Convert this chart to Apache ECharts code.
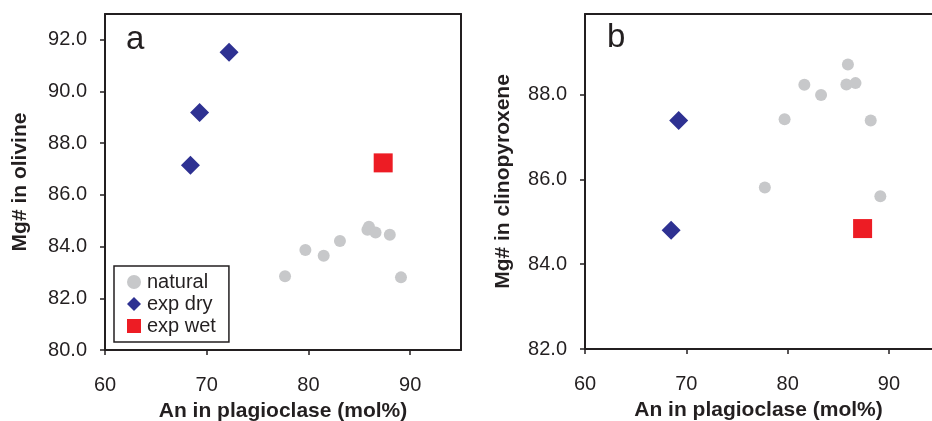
<!DOCTYPE html>
<html>
<head>
<meta charset="utf-8">
<script src="https://cdn.jsdelivr.net/npm/echarts@6/dist/echarts.min.js"></script>
<style>
html,body{margin:0;padding:0;background:#fff;overflow:hidden;}
#c{width:932px;height:421px;}
</style>
</head>
<body>
<div id="c"></div>
<script>
// Panel a: An in plagioclase vs Mg# in olivine
const naturalA = [[77.7,82.85],[79.7,83.87],[81.5,83.65],[83.1,84.22],[85.8,84.65],[85.95,84.77],[86.6,84.55],[88.0,84.46],[89.1,82.81]];
const expDryA = [[72.2,91.52],[69.3,89.19],[68.4,87.15]];
const expWetA = [[87.35,87.24]];
// Panel b: An in plagioclase vs Mg# in clinopyroxene
const naturalB = [[77.75,85.81],[79.7,87.42],[81.65,88.23],[83.3,87.99],[85.8,88.24],[85.95,88.71],[86.7,88.27],[88.2,87.39],[89.15,85.6]];
const expDryB = [[69.25,87.39],[68.5,84.8]];
const expWetB = [[87.4,84.84]];
const xTicks = [60,70,80,90];
const yTicksA = [80,82,84,86,88,90,92];
const yTicksB = [82,84,86,88];

const FONT = 'Liberation Sans, Arial, sans-serif';
const DARK = '#231f20';
const GRAY = '#c7c8ca', NAVY = '#2e3192', RED = '#ed1c24';

function xAxis(gi,max){
  return {
    type:'value', gridIndex:gi, min:60, max:max, interval:10,
    name:'An in plagioclase (mol%)', nameLocation:'middle', nameGap:51,
    nameTextStyle:{fontFamily:FONT,fontSize:21,fontWeight:'bold',color:DARK},
    axisLine:{show:true,onZero:false,lineStyle:{color:DARK,width:2}},
    axisTick:{show:true,length:5,lineStyle:{color:DARK,width:1.5},customValues:xTicks},
    axisLabel:{fontFamily:FONT,fontSize:20,color:DARK,margin:25,customValues:xTicks,formatter:v=>String(v)},
    splitLine:{show:false}
  };
}
function frameX(gi,max){
  return {type:'value',gridIndex:gi,min:60,max:max,position:'top',
    axisLine:{show:true,onZero:false,lineStyle:{color:DARK,width:2}},
    axisTick:{show:false},axisLabel:{show:false},splitLine:{show:false}};
}
function frameY(gi,min,max){
  return {type:'value',gridIndex:gi,min:min,max:max,position:'right',
    axisLine:{show:true,onZero:false,lineStyle:{color:DARK,width:2}},
    axisTick:{show:false},axisLabel:{show:false},splitLine:{show:false}};
}
function yAxis(gi,min,max,ticks,name,gap){
  return {
    type:'value', gridIndex:gi, min:min, max:max, interval:2,
    name:name, nameLocation:'middle', nameGap:gap,
    nameTextStyle:{fontFamily:FONT,fontSize:21,fontWeight:'bold',color:DARK},
    axisLine:{show:true,onZero:false,lineStyle:{color:DARK,width:2}},
    axisTick:{show:true,length:5,lineStyle:{color:DARK,width:1.5},customValues:ticks},
    axisLabel:{fontFamily:FONT,fontSize:20,color:DARK,margin:18,customValues:ticks,formatter:v=>v.toFixed(1)},
    splitLine:{show:false}
  };
}
function sc(name,data,gi,symbol,size,color){
  return {type:'scatter',name:name,data:data,xAxisIndex:gi,yAxisIndex:gi,symbol:symbol,symbolSize:size,
    itemStyle:{color:color,opacity:1},emphasis:{disabled:true},z:symbol==='circle'?2:3};
}

const chart = echarts.init(document.getElementById('c'),null,{renderer:'canvas'});
chart.setOption({
  animation:false,
  backgroundColor:'#fff',
  grid:[
    {left:105,right:471,top:14,bottom:71,outerBoundsMode:'none',containLabel:false},
    {left:585,right:0,top:14,bottom:72,outerBoundsMode:'none',containLabel:false}
  ],
  // panel b's frame is cut off by the image edge at An ~94.2 (panel a runs to 95)
  xAxis:[xAxis(0,95),xAxis(1,94.25),frameX(0,95),frameX(1,94.25)],
  yAxis:[yAxis(0,80,93,yTicksA,'Mg# in olivine',74),yAxis(1,82,89.9,yTicksB,'Mg# in clinopyroxene',71),frameY(0,80,93)],
  legend:{
    left:114,top:266,orient:'vertical',
    borderColor:DARK,borderWidth:1.5,padding:[6,13,6,13],
    itemGap:2,itemWidth:14,itemHeight:14,
    textStyle:{fontFamily:FONT,fontSize:20,color:DARK,padding:[0,0,0,1]},
    data:[{name:'natural',icon:'circle'},{name:'exp dry',icon:'diamond'},{name:'exp wet',icon:'rect'}],
    selectedMode:false
  },
  graphic:[
    {type:'text',left:126,top:23,style:{text:'a',fontFamily:FONT,fontSize:33,fill:DARK}},
    {type:'text',left:607,top:21,style:{text:'b',fontFamily:FONT,fontSize:33,fill:DARK}}
  ],
  series:[
    sc('natural',naturalA,0,'circle',12,GRAY),
    sc('exp dry',expDryA,0,'diamond',19,NAVY),
    sc('exp wet',expWetA,0,'rect',19,RED),
    sc('natural',naturalB,1,'circle',12,GRAY),
    sc('exp dry',expDryB,1,'diamond',19,NAVY),
    sc('exp wet',expWetB,1,'rect',19,RED)
  ]
});
</script>
</body>
</html>
